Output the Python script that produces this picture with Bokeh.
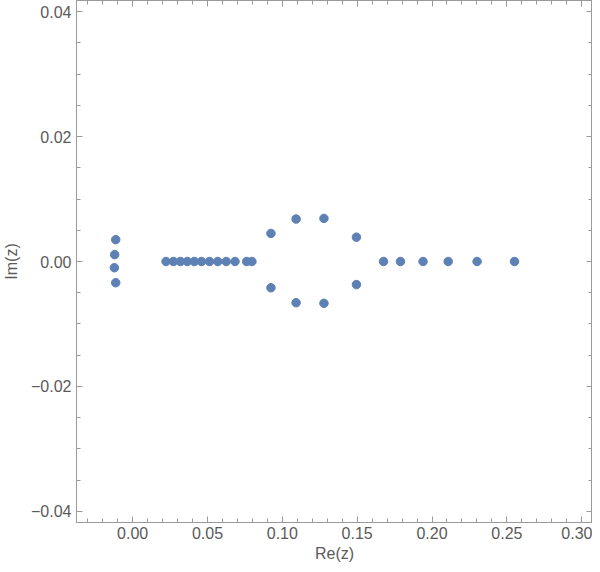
from bokeh.plotting import figure
from bokeh.models import LinearAxis, SingleIntervalTicker, CustomJSTickFormatter, Range1d, ColumnDataSource
from bokeh.embed import file_html
from bokeh.resources import INLINE

# zeros: real parts and imaginary parts
re_left = [-0.0113, -0.0120, -0.0122, -0.0113]
im_left = [0.0035, 0.0011, -0.0010, -0.0034]

re_chain = [0.0223, 0.0272, 0.0319, 0.0365, 0.0412, 0.0460, 0.0514, 0.0569,
            0.0625, 0.0684, 0.0762, 0.0797]
im_chain = [0.0] * 12

re_ring = [0.0924, 0.1092, 0.1278, 0.1495, 0.0924, 0.1092, 0.1278, 0.1495]
im_ring = [0.0045, 0.0068, 0.0069, 0.0039, -0.0042, -0.0066, -0.0067, -0.0037]

re_right = [0.1676, 0.1789, 0.1940, 0.2108, 0.2301, 0.2551]
im_right = [0.0] * 6

x_ticks_interval = 0.05
y_ticks_interval = 0.02

re_all = re_left + re_chain + re_ring + re_right
im_all = im_left + im_chain + im_ring + im_right

FONT = "Liberation Sans"
AX = "#9a9a9a"
TXT = "#5a5a5a"

p = figure(width=592, height=564, output_backend="svg", toolbar_location=None,
           x_range=Range1d(-0.0375, 0.3072), y_range=Range1d(-0.0418, 0.0418),
           min_border_left=10, min_border_right=0, min_border_top=0, min_border_bottom=0)
p.grid.visible = False
p.outline_line_color = AX
p.background_fill_color = "white"

src = ColumnDataSource(dict(x=re_all, y=im_all))
p.scatter("x", "y", source=src, size=8.5, fill_color="#5e81b5", line_color="#5e81b5")

fmt = CustomJSTickFormatter(code="""
    if (Math.abs(tick) < 1e-9) return '0.00';
    return (tick < 0 ? '\u2212' : '') + Math.abs(tick).toFixed(2);
""")
blank = CustomJSTickFormatter(code="return '';")

def style(ax, labels=True):
    ax.axis_line_color = AX
    ax.major_tick_line_color = AX
    ax.minor_tick_line_color = AX
    ax.major_tick_in = 6
    ax.major_tick_out = 0
    ax.minor_tick_in = 4
    ax.minor_tick_out = 0
    ax.major_label_text_font = FONT
    ax.major_label_text_font_size = "16px"
    ax.major_label_text_color = TXT
    ax.axis_label_text_font = FONT
    ax.axis_label_text_font_size = "16px"
    ax.axis_label_text_font_style = "normal"
    ax.axis_label_text_color = TXT
    if not labels:
        ax.formatter = blank
        ax.major_label_text_font_size = "1px"
        ax.major_label_standoff = 0
        ax.axis_label_standoff = 0

xt = SingleIntervalTicker(interval=x_ticks_interval, num_minor_ticks=5)
yt = SingleIntervalTicker(interval=y_ticks_interval, num_minor_ticks=4)

p.xaxis.ticker = xt
p.yaxis.ticker = yt
p.xaxis.formatter = fmt
p.yaxis.formatter = fmt
p.xaxis.axis_label = "Re(z)"
p.yaxis.axis_label = "Im(z)"
style(p.xaxis[0])
style(p.yaxis[0])
p.xaxis.major_label_standoff = 4
p.yaxis.major_label_standoff = 5
p.xaxis.axis_label_standoff = 3
p.yaxis.axis_label_standoff = 8

top = LinearAxis(ticker=SingleIntervalTicker(interval=x_ticks_interval, num_minor_ticks=5))
right = LinearAxis(ticker=SingleIntervalTicker(interval=y_ticks_interval, num_minor_ticks=4))
style(top, labels=False)
style(right, labels=False)
p.add_layout(top, "above")
p.add_layout(right, "right")

open("out.html", "w").write(file_html(p, INLINE))
